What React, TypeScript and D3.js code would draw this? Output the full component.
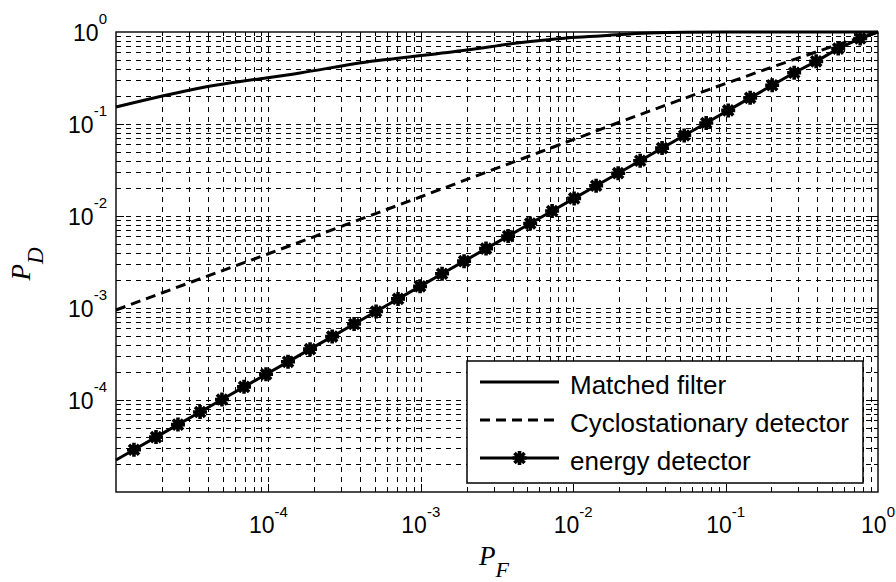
import React from "react";
import * as d3 from "d3";

// ---- data ----
const matchedPF = [1e-5, 3.56e-5, 1.61e-4, 4.43e-4, 7.31e-4, 2.01e-3, 4.28e-3, 9.12e-3, 1.5e-2, 3.16e-2, 0.1, 1];
const matchedPD = [0.153, 0.246, 0.358, 0.472, 0.521, 0.637, 0.759, 0.861, 0.906, 0.977, 0.997, 1];

const cycloPF = [1e-5, 3.16e-5, 1e-4, 3.16e-4, 1e-3, 3.16e-3, 1e-2, 3.16e-2, 0.1, 0.316, 0.562, 1];
const cycloPD = [9.51e-4, 1.93e-3, 3.89e-3, 7.94e-3, 1.62e-2, 3.31e-2, 6.76e-2, 0.138, 0.275, 0.537, 0.741, 1];

const energyPF = [
  1.312e-5, 1.83e-5, 2.55e-5, 3.56e-5, 4.96e-5, 6.92e-5, 9.65e-5, 1.345e-4, 1.876e-4, 2.62e-4,
  3.65e-4, 5.09e-4, 7.09e-4, 9.89e-4, 1.379e-3, 1.923e-3, 2.68e-3, 3.74e-3, 5.22e-3, 7.27e-3,
  1.014e-2, 1.414e-2, 1.972e-2, 2.75e-2, 3.83e-2, 5.35e-2, 7.46e-2, 0.104, 0.1449, 0.2021,
  0.2818, 0.3929, 0.548, 0.764,
];
const energyPD = [
  2.88e-5, 3.95e-5, 5.4e-5, 7.4e-5, 1.014e-4, 1.389e-4, 1.902e-4, 2.6e-4, 3.57e-4, 4.89e-4,
  6.69e-4, 9.17e-4, 1.256e-3, 1.719e-3, 2.36e-3, 3.23e-3, 4.42e-3, 6.05e-3, 8.29e-3, 1.135e-2,
  1.554e-2, 2.13e-2, 2.92e-2, 3.99e-2, 5.47e-2, 7.49e-2, 0.1026, 0.1405, 0.1925, 0.2636,
  0.3611, 0.48, 0.66, 0.85,
];
// curve end points of the energy detector line (no markers there)
const energyStart = [1e-5, 2.23e-5];
const energyEnd = [1, 1];

const legendLabels = ["Matched filter", "Cyclostationary detector", "energy detector"];
const xTickExps = [-4, -3, -2, -1, 0];
const yTickExps = [-4, -3, -2, -1, 0];
const decadeExps = [-5, -4, -3, -2, -1];
const minorMults = [2, 3, 4, 5, 6, 7, 8, 9];

// ---- layout ----
const W = 896;
const H = 582;
const L = 116, R = 878, T = 32, B = 492;

export default function App() {
  const x = d3.scaleLog().domain([1e-5, 1]).range([L, R]);
  const y = d3.scaleLog().domain([1e-5, 1]).range([B, T]);

  const majorVals = decadeExps.slice(1).map((e) => Math.pow(10, e));
  const minorVals: number[] = [];
  decadeExps.forEach((e) => minorMults.forEach((m) => minorVals.push(m * Math.pow(10, e))));
  const gridVals = [...majorVals, ...minorVals];

  const line = d3
    .line<[number, number]>()
    .x((d) => x(d[0]))
    .y((d) => y(d[1]));
  const smooth = d3
    .line<[number, number]>()
    .x((d) => x(d[0]))
    .y((d) => y(d[1]))
    .curve(d3.curveMonotoneX);

  const matchedPts = matchedPF.map((p, i) => [p, matchedPD[i]] as [number, number]);
  const cycloPts = cycloPF.map((p, i) => [p, cycloPD[i]] as [number, number]);
  const energyPts: [number, number][] = [
    energyStart as [number, number],
    ...energyPF.map((p, i) => [p, energyPD[i]] as [number, number]),
    energyEnd as [number, number],
  ];

  const star = (cx: number, cy: number, s: number) => {
    const d = s * 0.72;
    return `M${cx - s},${cy}H${cx + s}M${cx},${cy - s}V${cy + s}M${cx - d},${cy - d}L${cx + d},${cy + d}M${cx - d},${cy + d}L${cx + d},${cy - d}`;
  };

  const gridDash = "5,5";
  const tickFont = "'Liberation Sans', Arial, sans-serif";
  const serif = "'Liberation Serif', 'Times New Roman', serif";

  // legend geometry
  const lgX0 = 467, lgX1 = 863, lgY0 = 361, lgY1 = 483;
  const rowY = [382, 420, 458];
  const sampleX0 = 480, sampleX1 = 559;

  return (
    <svg
      width={W}
      height={H}
      style={{ position: "absolute", left: 0, top: 0, background: "#fff" }}
    >
      <rect x={0} y={0} width={W} height={H} fill="#fff" />
      <defs>
        <clipPath id="plotclip">
          <rect x={L - 1} y={T - 2} width={R - L + 2} height={B - T + 3} />
        </clipPath>
      </defs>

      {/* grid */}
      <g stroke="#000" strokeWidth={1.2} strokeDasharray={gridDash} fill="none" shapeRendering="crispEdges">
        {gridVals.map((v, i) => (
          <line key={"gx" + i} x1={Math.round(x(v)) + 0.5} x2={Math.round(x(v)) + 0.5} y1={B} y2={T} />
        ))}
        {gridVals.map((v, i) => (
          <line key={"gy" + i} x1={L} x2={R} y1={Math.round(y(v)) + 0.5} y2={Math.round(y(v)) + 0.5} />
        ))}
      </g>

      {/* ticks */}
      <g stroke="#000" strokeWidth={1} shapeRendering="crispEdges">
        {gridVals.map((v, i) => {
          const len = majorVals.includes(v) ? 8 : 4;
          const px = Math.round(x(v)) + 0.5;
          const py = Math.round(y(v)) + 0.5;
          return (
            <g key={"t" + i}>
              <line x1={px} x2={px} y1={B} y2={B - len} />
              <line x1={px} x2={px} y1={T} y2={T + len} />
              <line x1={L} x2={L + len} y1={py} y2={py} />
              <line x1={R} x2={R - len} y1={py} y2={py} />
            </g>
          );
        })}
      </g>

      {/* curves */}
      <g clipPath="url(#plotclip)" fill="none" stroke="#000">
        <path d={smooth(matchedPts) || ""} strokeWidth={3} />
        <path d={smooth(cycloPts) || ""} strokeWidth={3} strokeDasharray="10,6" />
        <path d={line(energyPts) || ""} strokeWidth={3} />
        {energyPF.map((p, i) => (
          <path key={"m" + i} d={star(x(p), y(energyPD[i]), 7)} strokeWidth={3.6} />
        ))}
      </g>

      {/* axes box */}
      <rect x={L} y={T} width={R - L} height={B - T} fill="none" stroke="#000" strokeWidth={1.4} />

      {/* tick labels */}
      <g fontFamily={tickFont} fill="#000">
        {xTickExps.map((e) => (
          <text key={"xl" + e} x={x(Math.pow(10, e))} y={533} textAnchor="middle" fontSize={23}>
            <tspan>10</tspan>
            <tspan dy={-16} fontSize={15}>{String(e)}</tspan>
          </text>
        ))}
        {yTickExps.map((e) => (
          <text key={"yl" + e} x={107} y={y(Math.pow(10, e)) + 9} textAnchor="end" fontSize={23}>
            <tspan>10</tspan>
            <tspan dy={-17} fontSize={15}>{String(e)}</tspan>
          </text>
        ))}
      </g>

      {/* axis labels */}
      <text x={494} y={565} textAnchor="middle" fontFamily={serif} fontStyle="italic" fontSize={27} fill="#000">
        <tspan>P</tspan>
        <tspan dy={12} fontSize={22}>F</tspan>
      </text>
      <text
        transform="translate(30,264) rotate(-90)"
        textAnchor="middle"
        fontFamily={serif}
        fontStyle="italic"
        fontSize={27}
        fill="#000"
      >
        <tspan>P</tspan>
        <tspan dy={13} fontSize={23}>D</tspan>
      </text>

      {/* legend */}
      <rect x={lgX0} y={lgY0} width={lgX1 - lgX0} height={lgY1 - lgY0} fill="#fff" stroke="#000" strokeWidth={1.5} />
      <g stroke="#000" fill="none">
        <line x1={sampleX0} x2={sampleX1} y1={rowY[0]} y2={rowY[0]} strokeWidth={3} />
        <line x1={sampleX0} x2={sampleX1} y1={rowY[1]} y2={rowY[1]} strokeWidth={3} strokeDasharray="10,6" />
        <line x1={sampleX0} x2={sampleX1} y1={rowY[2]} y2={rowY[2]} strokeWidth={3} />
        <path d={star((sampleX0 + sampleX1) / 2, rowY[2], 7)} strokeWidth={3.6} />
      </g>
      <g fontFamily={tickFont} fontSize={26} fill="#000">
        {legendLabels.map((lab, i) => (
          <text key={lab} x={570} y={rowY[i] + 11.5}>
            {lab}
          </text>
        ))}
      </g>
    </svg>
  );
}
